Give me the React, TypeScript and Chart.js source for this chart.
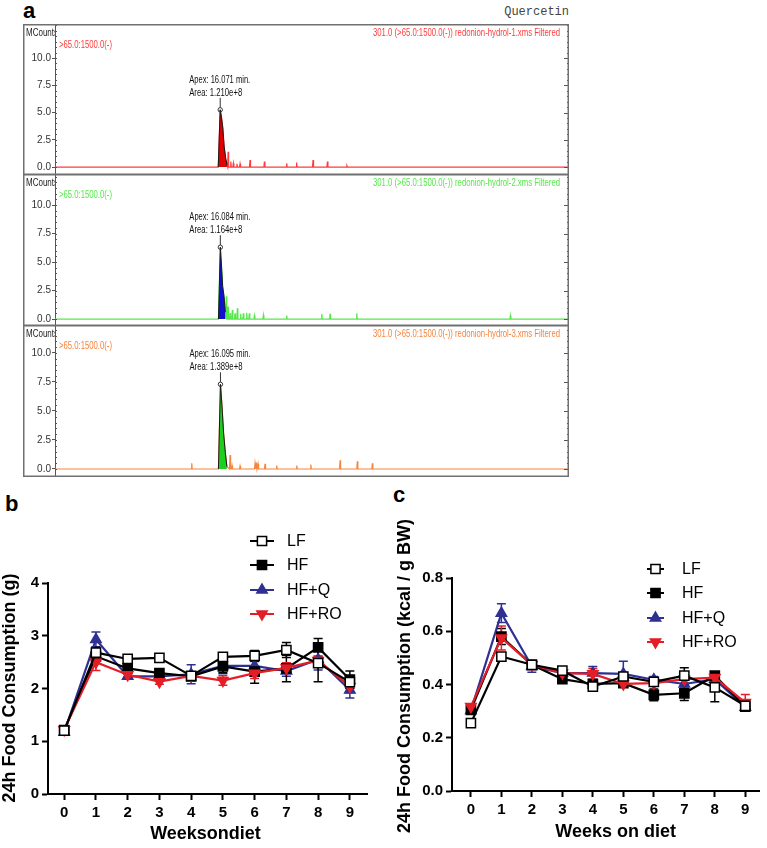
import React, { useEffect, useRef } from 'react';
import { Chart, registerables } from 'chart.js';
import { drawPoint } from 'chart.js/helpers';
Chart.register(...registerables);

const FONT = '"Liberation Sans", Arial, Helvetica, sans-serif';
const NARROW = '"Liberation Sans Narrow", "Liberation Sans", Arial, sans-serif';

// ---------------- Panel a: chromatograms ----------------
const chromTimeRange = [0, 50];
const chromTicks = [0, 2.5, 5, 7.5, 10];
const chromYMin = [-0.73, -0.61, -0.69];
const chromYMax = [13.12, 12.72, 12.41];

const peak1Time = [15.88, 16.071, 16.2, 16.32, 16.45, 16.6, 16.74];
const peak1Value = [0, 5.25, 4.5, 3.6, 1.9, 0.8, 0.15];
const spike1Time = [16.84, 17.1, 17.35, 17.7, 18.0, 18.97, 20.37, 22.54, 23.5, 25.1, 26.5, 28.4];
const spike1Value = [1.4, 0.5, 0.35, 0.3, 0.3, 0.65, 0.5, 0.35, 0.42, 0.65, 0.5, 0.12];

const peak2Time = [15.9, 16.084, 16.22, 16.31, 16.44, 16.57];
const peak2Value = [0, 6.3, 4.3, 2.85, 2.0, 0.6];
const spike2Time = [16.66, 16.83, 17.03, 17.25, 17.51, 17.74, 18.06, 18.32, 18.65, 18.9, 19.4, 20.27, 22.54, 25.95, 26.76, 29.35, 44.3];
const spike2Value = [2.0, 1.1, 0.5, 0.8, 0.5, 0.95, 0.45, 0.5, 0.55, 0.5, 0.3, 0.35, 0.3, 0.45, 0.45, 0.5, 0.3];

const peak3Time = [15.9, 16.095, 16.24, 16.4, 16.57, 16.72];
const peak3Value = [0, 7.3, 5.5, 3.1, 1.4, 0.2];
const spike3Time = [13.3, 17.03, 17.22, 18.0, 19.46, 19.6, 19.75, 20.43, 21.57, 23.52, 24.88, 27.73, 29.41, 30.87];
const spike3Value = [0.5, 1.2, 0.3, 0.25, 0.5, 0.55, 0.45, 0.45, 0.3, 0.3, 0.38, 0.75, 0.67, 0.5];

const peakTimes = [peak1Time, peak2Time, peak3Time];
const peakValues = [peak1Value, peak2Value, peak3Value];
const spikeTimes = [spike1Time, spike2Time, spike3Time];
const spikeValues = [spike1Value, spike2Value, spike3Value];

const apexLabels = ['Apex: 16.071 min.', 'Apex: 16.084 min.', 'Apex: 16.095 min.'];
const areaLabels = ['Area: 1.210e+8', 'Area: 1.164e+8', 'Area: 1.389e+8'];
const traceLabels = [
  '301.0 (>65.0:1500.0(-)) redonion-hydrol-1.xms Filtered',
  '301.0 (>65.0:1500.0(-)) redonion-hydrol-2.xms Filtered',
  '301.0 (>65.0:1500.0(-)) redonion-hydrol-3.xms Filtered',
];
const filterLabel = '>65.0:1500.0(-)';
const yUnitLabel = 'MCounts';

const traceColors = ['#ff3b3b', '#55e84a', '#f5843c'];
const fillColors = ['#e00000', '#1010d0', '#1fcf1f'];

// ---------------- Panels b, c: food consumption ----------------
const weeks = [0, 1, 2, 3, 4, 5, 6, 7, 8, 9];
const seriesNames = ['LF', 'HF', 'HF+Q', 'HF+RO'];

const gramsLF = [1.2, 2.68, 2.56, 2.58, 2.24, 2.6, 2.62, 2.73, 2.48, 2.12];
const gramsHF = [1.21, 2.61, 2.38, 2.29, 2.23, 2.42, 2.32, 2.38, 2.78, 2.17];
const gramsHFQ = [1.17, 2.93, 2.23, 2.23, 2.27, 2.43, 2.43, 2.33, 2.55, 1.97];
const gramsHFRO = [1.22, 2.5, 2.26, 2.13, 2.24, 2.15, 2.29, 2.39, 2.53, 2.04];
const gramsErrLF = [0.03, 0.1, 0.04, 0.05, 0.05, 0.08, 0.1, 0.14, 0.35, 0.12];
const gramsErrHF = [0.03, 0.1, 0.05, 0.07, 0.06, 0.12, 0.22, 0.25, 0.17, 0.16];
const gramsErrHFQ = [0.03, 0.14, 0.05, 0.05, 0.18, 0.15, 0.08, 0.1, 0.2, 0.15];
const gramsErrHFRO = [0.03, 0.16, 0.05, 0.05, 0.05, 0.09, 0.1, 0.1, 0.08, 0.12];
const gramsTicks = [0, 1, 2, 3, 4];

const kcalLF = [0.255, 0.505, 0.474, 0.452, 0.392, 0.43, 0.41, 0.433, 0.389, 0.32];
const kcalHF = [0.305, 0.58, 0.474, 0.42, 0.402, 0.405, 0.361, 0.367, 0.433, 0.317];
const kcalHFQ = [0.302, 0.668, 0.468, 0.443, 0.443, 0.44, 0.418, 0.402, 0.42, 0.315];
const kcalHFRO = [0.317, 0.575, 0.474, 0.443, 0.44, 0.402, 0.405, 0.42, 0.426, 0.332];
const kcalErrLF = [0.01, 0.01, 0.01, 0.012, 0.012, 0.015, 0.012, 0.03, 0.054, 0.01];
const kcalErrHF = [0.01, 0.03, 0.015, 0.012, 0.012, 0.012, 0.022, 0.027, 0.012, 0.012];
const kcalErrHFQ = [0.01, 0.035, 0.022, 0.012, 0.025, 0.047, 0.012, 0.015, 0.015, 0.012];
const kcalErrHFRO = [0.01, 0.045, 0.015, 0.012, 0.02, 0.012, 0.012, 0.015, 0.012, 0.03];
const kcalTicks = [0, 0.2, 0.4, 0.6, 0.8];

const seriesStyles = [
  { color: '#000000', pointStyle: 'rect', fill: '#ffffff', radius: 6.5, rotation: 0, order: 0 },
  { color: '#000000', pointStyle: 'rect', fill: '#000000', radius: 6.5, rotation: 0, order: 2 },
  { color: '#2e3192', pointStyle: 'triangle', fill: '#2e3192', radius: 6, rotation: 0, order: 3 },
  { color: '#e41e26', pointStyle: 'triangle', fill: '#e41e26', radius: 6, rotation: 180, order: 1 },
];

// ---------------- chromatogram chart ----------------
function buildTrace(k: number) {
  const pts: { x: number; y: number }[] = peakTimes[k].map((t, i) => ({ x: t, y: peakValues[k][i] }));
  spikeTimes[k].forEach((t, i) => {
    pts.push({ x: t - 0.05, y: 0 }, { x: t, y: spikeValues[k][i] }, { x: t + 0.05, y: 0 });
  });
  pts.push({ x: chromTimeRange[0], y: 0 }, { x: chromTimeRange[1], y: 0 });
  pts.sort((a, b) => a.x - b.x);
  return pts;
}

function chromDeco(k: number) {
  return {
    id: 'chromDeco' + k,
    afterDraw(chart: any) {
      const ctx = chart.ctx as CanvasRenderingContext2D;
      const a = chart.chartArea;
      const W = chart.width;
      const H = chart.height;
      const ys = chart.scales.y;
      const xs = chart.scales.x;
      ctx.save();
      ctx.strokeStyle = '#555';
      ctx.lineWidth = 1;
      for (let v = 0; v <= ys.max; v += 0.5) {
        const y = Math.round(ys.getPixelForValue(v)) + 0.5;
        ctx.beginPath();
        ctx.moveTo(a.left, y);
        ctx.lineTo(a.left + 2, y);
        ctx.moveTo(a.right - 2, y);
        ctx.lineTo(a.right, y);
        ctx.stroke();
      }
      chromTicks.forEach((v) => {
        const y = Math.round(ys.getPixelForValue(v)) + 0.5;
        ctx.beginPath();
        ctx.moveTo(a.right - 5, y);
        ctx.lineTo(a.right, y);
        ctx.stroke();
      });
      ctx.beginPath();
      ctx.moveTo(a.right - 0.5, 0);
      ctx.lineTo(a.right - 0.5, H);
      ctx.stroke();
      ctx.strokeStyle = '#707070';
      ctx.lineWidth = 1.5;
      ctx.strokeRect(0.75, 0.75, W - 1.5, H - 1.5);

      ctx.font = `10px ${NARROW}`;
      ctx.textBaseline = 'middle';
      ctx.save();
      ctx.beginPath();
      ctx.rect(0, 0, a.left, H);
      ctx.clip();
      ctx.fillStyle = '#222';
      ctx.textAlign = 'left';
      ctx.fillText(yUnitLabel, 3, 9, 32);
      ctx.restore();

      ctx.fillStyle = traceColors[k];
      ctx.textAlign = 'left';
      ctx.fillText(filterLabel, a.left + 4, 21, 53);
      ctx.textAlign = 'right';
      ctx.fillText(traceLabels[k], W - 9, 9, 187);

      const pV = peakValues[k];
      let m = 0;
      pV.forEach((v, i) => {
        if (v > pV[m]) m = i;
      });
      const px = xs.getPixelForValue(peakTimes[k][m]);
      const py = ys.getPixelForValue(pV[m]);
      ctx.strokeStyle = '#333';
      ctx.lineWidth = 1;
      ctx.beginPath();
      ctx.arc(px, py, 2.2, 0, Math.PI * 2);
      ctx.stroke();
      ctx.beginPath();
      ctx.moveTo(px, py - 2.2);
      ctx.lineTo(px, py - 12);
      ctx.stroke();
      ctx.fillStyle = '#111';
      ctx.textAlign = 'left';
      ctx.fillText(apexLabels[k], px - 31, py - 30, 61);
      ctx.fillText(areaLabels[k], px - 31, py - 17, 53);
      ctx.restore();
    },
  };
}

function chromConfig(k: number): any {
  const peak = peakTimes[k].map((t, i) => ({ x: t, y: peakValues[k][i] }));
  return {
    type: 'line',
    data: {
      datasets: [
        {
          data: peak,
          borderColor: '#1a1a1a',
          borderWidth: 1,
          backgroundColor: fillColors[k],
          fill: 'origin',
          pointRadius: 0,
          tension: 0,
          order: 0,
        },
        {
          data: buildTrace(k),
          borderColor: traceColors[k],
          borderWidth: 1.2,
          pointRadius: 0,
          fill: false,
          tension: 0,
          order: 1,
        },
      ],
    },
    options: {
      animation: false,
      responsive: false,
      events: [],
      layout: { padding: 0 },
      plugins: { legend: { display: false }, tooltip: { enabled: false } },
      scales: {
        x: { type: 'linear', display: false, min: chromTimeRange[0], max: chromTimeRange[1] },
        y: {
          type: 'linear',
          min: chromYMin[k],
          max: chromYMax[k],
          afterBuildTicks: (s: any) => {
            s.ticks = chromTicks.map((v) => ({ value: v }));
          },
          afterFit: (s: any) => {
            s.width = 32;
            s.paddingTop = 0;
            s.paddingBottom = 0;
          },
          ticks: {
            font: { family: NARROW, size: 10 },
            color: '#333',
            padding: 1,
            callback: (v: any) => Number(v).toFixed(1),
          },
          grid: { drawOnChartArea: false, drawTicks: true, tickLength: 3, color: '#555' },
          border: { display: true, color: '#555', width: 1 },
        },
      },
    },
    plugins: [chromDeco(k)],
  };
}

// ---------------- food charts ----------------
interface FoodOpts {
  values: number[][];
  errors: number[][];
  yTicks: number[];
  decimals: number;
  xMin: number;
  xMax: number;
  yAxisWidth: number;
  xAxisHeight: number;
  padTop: number;
  padRight: number;
  legendX0: number;
  legendX1: number;
  legendTextX: number;
  legendYs: number[];
  yTitle: string;
  xTitle: string;
  yTitlePos: number[];
  xTitlePos: number[];
}

function foodConfig(p: FoodOpts): any {
  const errorBars = {
    id: 'errorBars',
    beforeDatasetsDraw(chart: any) {
      const ctx = chart.ctx as CanvasRenderingContext2D;
      const ys = chart.scales.y;
      const orderIdx = [2, 1, 3, 0];
      orderIdx.forEach((di) => {
        const meta = chart.getDatasetMeta(di);
        const st = seriesStyles[di];
        ctx.save();
        ctx.strokeStyle = st.color;
        ctx.lineWidth = 1.5;
        meta.data.forEach((pt: any, i: number) => {
          const v = p.values[di][i];
          const e = p.errors[di][i];
          const yT = ys.getPixelForValue(v + e);
          const yB = ys.getPixelForValue(v - e);
          ctx.beginPath();
          ctx.moveTo(pt.x, yT);
          ctx.lineTo(pt.x, yB);
          ctx.moveTo(pt.x - 4.5, yT);
          ctx.lineTo(pt.x + 4.5, yT);
          ctx.moveTo(pt.x - 4.5, yB);
          ctx.lineTo(pt.x + 4.5, yB);
          ctx.stroke();
        });
        ctx.restore();
      });
    },
  };
  const deco = {
    id: 'foodDeco',
    afterDraw(chart: any) {
      const ctx = chart.ctx as CanvasRenderingContext2D;
      ctx.save();
      seriesNames.forEach((name, s) => {
        const st = seriesStyles[s];
        const y = p.legendYs[s];
        ctx.strokeStyle = st.color;
        ctx.lineWidth = 2;
        ctx.beginPath();
        ctx.moveTo(p.legendX0, y);
        ctx.lineTo(p.legendX1, y);
        ctx.stroke();
        ctx.fillStyle = st.fill;
        ctx.strokeStyle = st.color;
        ctx.lineWidth = 1.5;
        drawPoint(
          ctx,
          { pointStyle: st.pointStyle as any, radius: st.radius, rotation: st.rotation, borderWidth: 1.5 } as any,
          (p.legendX0 + p.legendX1) / 2,
          y
        );
        ctx.fillStyle = '#000';
        ctx.font = `16px ${FONT}`;
        ctx.textAlign = 'left';
        ctx.textBaseline = 'middle';
        ctx.fillText(name, p.legendTextX, y + 0.5);
      });
      ctx.fillStyle = '#000';
      ctx.font = `bold 18px ${FONT}`;
      ctx.textAlign = 'center';
      ctx.textBaseline = 'middle';
      ctx.fillText(p.xTitle, p.xTitlePos[0], p.xTitlePos[1]);
      ctx.translate(p.yTitlePos[0], p.yTitlePos[1]);
      ctx.rotate(-Math.PI / 2);
      ctx.fillText(p.yTitle, 0, 0);
      ctx.restore();
    },
  };
  return {
    type: 'line',
    data: {
      datasets: seriesNames.map((name, s) => {
        const st = seriesStyles[s];
        return {
          label: name,
          data: weeks.map((w, i) => ({ x: w, y: p.values[s][i] })),
          borderColor: st.color,
          backgroundColor: st.fill,
          borderWidth: 2.2,
          pointStyle: st.pointStyle,
          pointRadius: st.radius,
          pointRotation: st.rotation,
          pointBackgroundColor: st.fill,
          pointBorderColor: st.color,
          pointBorderWidth: 1.5,
          order: st.order,
          tension: 0,
          fill: false,
        };
      }),
    },
    options: {
      animation: false,
      responsive: false,
      events: [],
      layout: { padding: { top: p.padTop, right: p.padRight, left: 0, bottom: 0 } },
      plugins: { legend: { display: false }, tooltip: { enabled: false } },
      scales: {
        x: {
          type: 'linear',
          min: p.xMin,
          max: p.xMax,
          afterBuildTicks: (s: any) => {
            s.ticks = weeks.map((v) => ({ value: v }));
          },
          afterFit: (s: any) => {
            s.height = p.xAxisHeight;
            s.paddingLeft = 0;
            s.paddingRight = 0;
          },
          ticks: {
            font: { family: FONT, size: 15, weight: 'bold' },
            color: '#000',
            padding: 4,
            maxRotation: 0,
            callback: (v: any) => String(v),
          },
          grid: { drawOnChartArea: false, drawTicks: true, tickLength: 6, tickWidth: 2, tickColor: '#000' },
          border: { display: true, color: '#000', width: 2 },
        },
        y: {
          type: 'linear',
          min: p.yTicks[0],
          max: p.yTicks[p.yTicks.length - 1],
          afterBuildTicks: (s: any) => {
            s.ticks = p.yTicks.map((v) => ({ value: v }));
          },
          afterFit: (s: any) => {
            s.width = p.yAxisWidth;
            s.paddingTop = 0;
            s.paddingBottom = 0;
          },
          ticks: {
            font: { family: FONT, size: 15, weight: 'bold' },
            color: '#000',
            padding: 3,
            callback: (v: any) => Number(v).toFixed(p.decimals),
          },
          grid: { drawOnChartArea: false, drawTicks: true, tickLength: 6, tickWidth: 2, tickColor: '#000' },
          border: { display: true, color: '#000', width: 2 },
        },
      },
    },
    plugins: [errorBars, deco],
  };
}

function ChartBox(props: { left: number; top: number; width: number; height: number; make: () => any }) {
  const ref = useRef<HTMLCanvasElement>(null);
  useEffect(() => {
    const chart = new Chart(ref.current as HTMLCanvasElement, props.make());
    return () => chart.destroy();
  }, []);
  return (
    <canvas
      ref={ref}
      width={props.width}
      height={props.height}
      style={{ position: 'absolute', left: props.left, top: props.top, width: props.width, height: props.height }}
    />
  );
}

const panelLabel = (txt: string, left: number, top: number) => (
  <div
    style={{
      position: 'absolute',
      left,
      top,
      font: `bold 22px ${FONT}`,
      lineHeight: '22px',
      color: '#000',
    }}
  >
    {txt}
  </div>
);

export default function App() {
  return (
    <div style={{ position: 'absolute', left: 0, top: 0, width: 767, height: 848, background: '#fff', overflow: 'hidden' }}>
      {panelLabel('a', 23, 0)}
      {panelLabel('b', 5, 493)}
      {panelLabel('c', 393, 484)}
      <div
        style={{
          position: 'absolute',
          right: 767 - 569,
          top: 4,
          font: `12px "Liberation Mono", "Courier New", monospace`,
          lineHeight: '16px',
          color: '#444',
        }}
      >
        Quercetin
      </div>
      <ChartBox left={23} top={24} width={546} height={151} make={() => chromConfig(0)} />
      <ChartBox left={23} top={174} width={546} height={152} make={() => chromConfig(1)} />
      <ChartBox left={23} top={325} width={546} height={152} make={() => chromConfig(2)} />
      <ChartBox
        left={0}
        top={480}
        width={380}
        height={368}
        make={() =>
          foodConfig({
            values: [gramsLF, gramsHF, gramsHFQ, gramsHFRO],
            errors: [gramsErrLF, gramsErrHF, gramsErrHFQ, gramsErrHFRO],
            yTicks: gramsTicks,
            decimals: 0,
            xMin: -0.51,
            xMax: 9.54,
            yAxisWidth: 48,
            xAxisHeight: 54,
            padTop: 103,
            padRight: 13,
            legendX0: 250,
            legendX1: 274,
            legendTextX: 287,
            legendYs: [61, 85, 110, 134],
            yTitle: '24h Food Consumption (g)',
            xTitle: 'Weeksondiet',
            yTitlePos: [10, 208],
            xTitlePos: [205.5, 354],
          })
        }
      />
      <ChartBox
        left={380}
        top={480}
        width={387}
        height={368}
        make={() =>
          foodConfig({
            values: [kcalLF, kcalHF, kcalHFQ, kcalHFRO],
            errors: [kcalErrLF, kcalErrHF, kcalErrHFQ, kcalErrHFRO],
            yTicks: kcalTicks,
            decimals: 1,
            xMin: -0.62,
            xMax: 9.45,
            yAxisWidth: 72,
            xAxisHeight: 57,
            padTop: 98,
            padRight: 5,
            legendX0: 267,
            legendX1: 284,
            legendTextX: 302,
            legendYs: [89, 113, 138, 162],
            yTitle: '24h Food Consumption (kcal / g BW)',
            xTitle: 'Weeks on diet',
            yTitlePos: [25, 196],
            xTitlePos: [235.7, 352],
          })
        }
      />
    </div>
  );
}
